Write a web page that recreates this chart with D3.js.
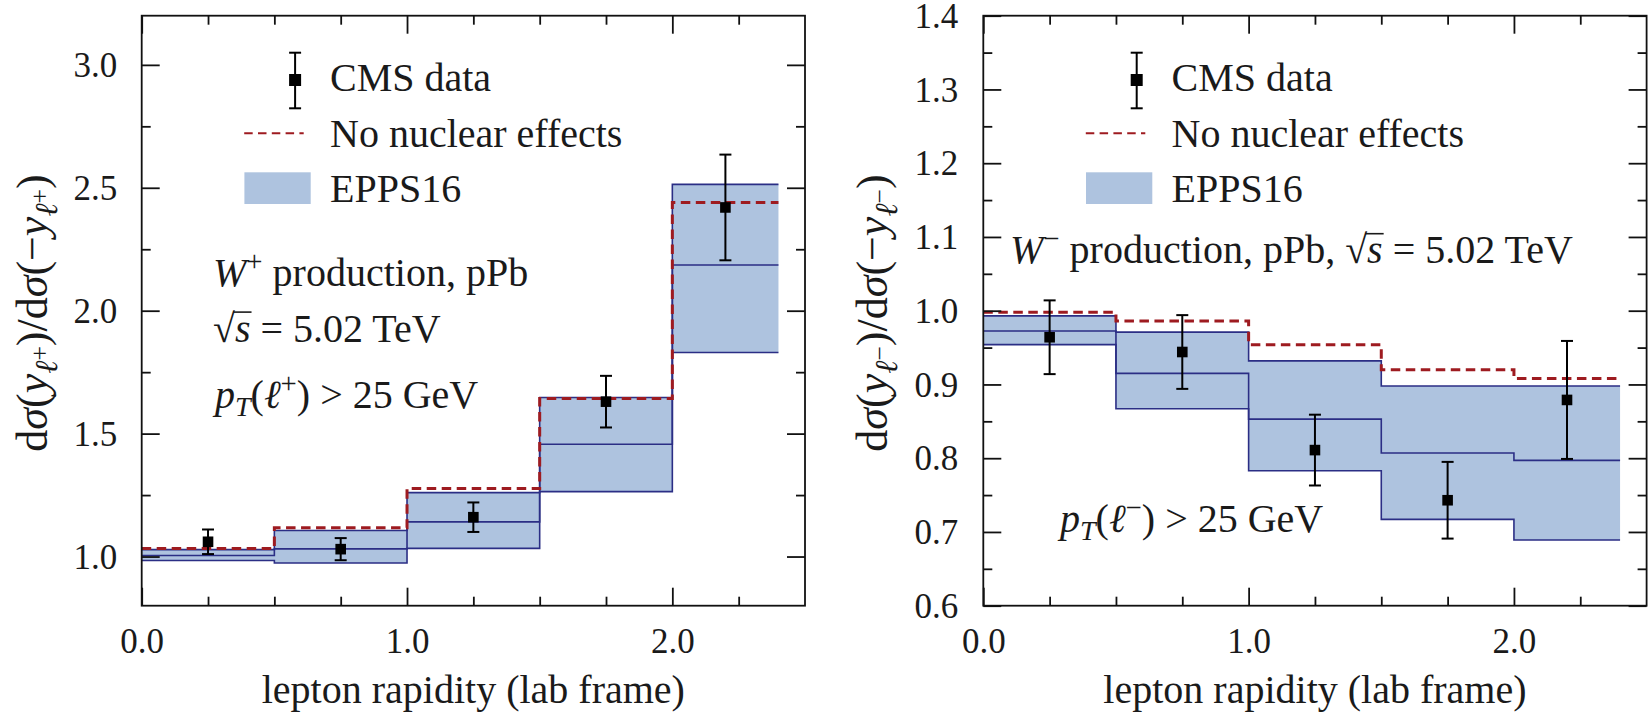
<!DOCTYPE html>
<html>
<head>
<meta charset="utf-8">
<script src="https://cdn.jsdelivr.net/npm/d3@7"></script>
</head>
<body style="margin:0;background:#fff">
<svg id="fig" width="1648" height="718"></svg>
<script>
// ---- binning in lepton rapidity (lab frame) ----
const binEdges = [0, 0.5, 1.0, 1.5, 2.0, 2.4];
const dataRapidity = [0.25, 0.75, 1.25, 1.75, 2.2];

// ---- W+ forward/backward ratio ----
const wPlusData    = [1.06, 1.03, 1.16, 1.63, 2.42];
const wPlusErr     = [0.05, 0.045, 0.06, 0.105, 0.215];
const wPlusNoNuc   = [1.033, 1.117, 1.277, 1.643, 2.44];
const wPlusUpper   = [1.028, 1.106, 1.26, 1.647, 2.514];
const wPlusCentral = [1.004, 1.031, 1.141, 1.457, 2.186];
const wPlusLower   = [0.984, 0.974, 1.033, 1.264, 1.83];

// ---- W- forward/backward ratio ----
const wMinusData    = [0.964, 0.944, 0.811, 0.743, 0.879];
const wMinusErr     = [0.05, 0.05, 0.048, 0.052, 0.08];
const wMinusNoNuc   = [0.998, 0.986, 0.954, 0.920, 0.908];
const wMinusUpper   = [0.993, 0.971, 0.932, 0.898, 0.898];
const wMinusCentral = [0.9725, 0.915, 0.853, 0.807, 0.797];
const wMinusLower   = [0.954, 0.867, 0.783, 0.717, 0.689];

// ---- axis ticks ----
const xMajorTicks = [0, 1, 2];
const xMinorTicks = [0.25, 0.5, 0.75, 1.25, 1.5, 1.75, 2.25];
const yPlusMajor  = [1.0, 1.5, 2.0, 2.5, 3.0];
const yPlusMinor  = [1.25, 1.75, 2.25, 2.75];
const yMinusMajor = [0.6, 0.7, 0.8, 0.9, 1.0, 1.1, 1.2, 1.3, 1.4];
const yMinusMinor = [0.65, 0.75, 0.85, 0.95, 1.05, 1.15, 1.25, 1.35];

// ---- legend labels ----
const legendLabels = ["CMS data", "No nuclear effects", "EPPS16"];

const COL_FILL = "#aec3df", COL_EDGE = "#2b2e85", COL_DASH = "#9e1b20";
const SERIF = "Liberation Serif";
const INK = "#1a1a1a";
const FS = 40, TICK_FS = 35, TITLE_FS = 44;

const svg = d3.select("#fig");

// serif label helper
function label(parent, x, y, fs) {
  return parent.append("text").attr("x", x).attr("y", y)
    .attr("font-family", SERIF).style("font-family", SERIF)
    .attr("font-size", fs).attr("fill", INK);
}

// text made of styled pieces (italic, sub/superscripts); shifts in px, positive = down
function richText(parent, x, y, segs, fs, anchor) {
  const t = label(parent, x, y, fs).attr("text-anchor", anchor || "start");
  let prev = 0;
  segs.forEach(s => {
    const sh = s.sh || 0;
    const ts = t.append("tspan").text(s.t)
      .attr("font-size", fs * (s.sz || 1))
      .attr("dy", sh - prev);
    if (s.it) ts.attr("font-style", "italic");
    prev = sh;
  });
  return t;
}

// vinculum over the radicand that follows the "√" piece
function radicalBar(textSel, segs, fs, baseY) {
  const node = textSel.node();
  let idx = 0, iRoot = -1, iEnd = -1;
  segs.forEach(s => {
    if (s.root) iRoot = idx;
    if (s.rad) iEnd = idx + s.t.length - 1;
    idx += s.t.length;
  });
  if (iRoot < 0 || iEnd < 0) return;
  const x1 = node.getEndPositionOfChar(iRoot).x - 1.5;
  const x2 = node.getEndPositionOfChar(iEnd).x + 1;
  d3.select(node.parentNode).append("line")
    .attr("x1", x1).attr("x2", x2)
    .attr("y1", baseY - 0.74 * fs).attr("y2", baseY - 0.74 * fs)
    .attr("stroke", INK).attr("stroke-width", 1.6);
}

const yTitle = sign => [
  { t: "d" }, { t: "σ", it: true }, { t: "(" }, { t: "y", it: true },
  { t: "ℓ", it: true, sz: 0.72, sh: 10 }, { t: sign, sz: 0.58, sh: 1 },
  { t: ")/d", sh: 0 }, { t: "σ", it: true }, { t: "(−" }, { t: "y", it: true },
  { t: "ℓ", it: true, sz: 0.72, sh: 10 }, { t: sign, sz: 0.58, sh: 1 },
  { t: ")", sh: 0 }
];

const panels = [
  {
    x0: 141.7, yDomain: [0.8, 3.2],
    data: wPlusData, err: wPlusErr, noNuc: wPlusNoNuc,
    upper: wPlusUpper, central: wPlusCentral, lower: wPlusLower,
    yMajor: yPlusMajor, yMinor: yPlusMinor, tickPad: 24.5,
    titleX: 47, sign: "+",
    notes: [
      { x: 213, y: 286, segs: [{ t: "W", it: true }, { t: "+", sz: 0.72, sh: -15 }, { t: " production, pPb", sh: 0 }] },
      { x: 213, y: 341.7, segs: [{ t: "√", root: true }, { t: "s", it: true, rad: true }, { t: " = 5.02 TeV" }] },
      { x: 215, y: 408.3, segs: [{ t: "p", it: true }, { t: "T", it: true, sz: 0.7, sh: 8 }, { t: "(", sh: 0 }, { t: "ℓ", it: true }, { t: "+", sz: 0.72, sh: -15 }, { t: ") > 25 GeV", sh: 0 }] }
    ]
  },
  {
    x0: 983.3, yDomain: [0.6, 1.4],
    data: wMinusData, err: wMinusErr, noNuc: wMinusNoNuc,
    upper: wMinusUpper, central: wMinusCentral, lower: wMinusLower,
    yMajor: yMinusMajor, yMinor: yMinusMinor, tickPad: 25,
    titleX: 887, sign: "−",
    notes: [
      { x: 1010, y: 263.3, segs: [{ t: "W", it: true }, { t: "−", sz: 0.72, sh: -15 }, { t: " production, pPb, ", sh: 0 }, { t: "√", root: true }, { t: "s", it: true, rad: true }, { t: " = 5.02 TeV" }] },
      { x: 1060, y: 531.7, segs: [{ t: "p", it: true }, { t: "T", it: true, sz: 0.7, sh: 8 }, { t: "(", sh: 0 }, { t: "ℓ", it: true }, { t: "−", sz: 0.72, sh: -15 }, { t: ") > 25 GeV", sh: 0 }] }
    ]
  }
];

const W = 663.3, TOP = 15.7, BOT = 605.7;

panels.forEach(p => {
  const x = d3.scaleLinear().domain([0, 2.5]).range([p.x0, p.x0 + W]);
  const y = d3.scaleLinear().domain(p.yDomain).range([BOT, TOP]);
  const g = svg.append("g");

  // step series: one value per bin, extended to the last edge
  const stepPts = vals => binEdges.map((e, i) => [e, vals[Math.min(i, vals.length - 1)]]);
  const stepLine = d3.line().x(d => x(d[0])).y(d => y(d[1])).curve(d3.curveStepAfter);
  const band = d3.area().x(d => x(d[0])).y0(d => y(d[1])).y1(d => y(d[2])).curve(d3.curveStepAfter);
  const bandPts = binEdges.map((e, i) => {
    const k = Math.min(i, p.lower.length - 1);
    return [e, p.lower[k], p.upper[k]];
  });

  // EPPS16 uncertainty band
  g.append("path").attr("d", band(bandPts)).attr("fill", COL_FILL).attr("stroke", "none");
  [p.upper, p.central, p.lower].forEach(v => {
    g.append("path").attr("d", stepLine(stepPts(v)))
      .attr("fill", "none").attr("stroke", COL_EDGE).attr("stroke-width", 1.6);
  });

  // no nuclear effects
  g.append("path").attr("d", stepLine(stepPts(p.noNuc)))
    .attr("fill", "none").attr("stroke", COL_DASH).attr("stroke-width", 3)
    .attr("stroke-dasharray", "9.5,5.5");

  // CMS data with error bars
  const pts = g.selectAll(".pt").data(dataRapidity.map((r, i) => ({ r, v: p.data[i], e: p.err[i] })))
    .enter().append("g");
  pts.append("line").attr("x1", d => x(d.r)).attr("x2", d => x(d.r))
    .attr("y1", d => y(d.v + d.e)).attr("y2", d => y(d.v - d.e))
    .attr("stroke", "#000").attr("stroke-width", 2);
  [1, -1].forEach(s => {
    pts.append("line").attr("x1", d => x(d.r) - 6).attr("x2", d => x(d.r) + 6)
      .attr("y1", d => y(d.v + s * d.e)).attr("y2", d => y(d.v + s * d.e))
      .attr("stroke", "#000").attr("stroke-width", 2);
  });
  pts.append("rect").attr("x", d => x(d.r) - 5.3).attr("y", d => y(d.v) - 5.3)
    .attr("width", 10.6).attr("height", 10.6).attr("fill", "#000");

  // frame
  g.append("rect").attr("x", p.x0).attr("y", TOP).attr("width", W).attr("height", BOT - TOP)
    .attr("fill", "none").attr("stroke", "#111").attr("stroke-width", 1.8);

  // inward ticks on all four sides
  const styleAxis = sel => {
    sel.attr("font-family", SERIF);
    sel.select(".domain").remove();
    sel.selectAll(".tick line").attr("stroke", "#111").attr("stroke-width", 1.8);
    sel.selectAll("text").attr("font-size", TICK_FS).attr("fill", INK)
      .attr("font-family", SERIF).style("font-family", SERIF);
  };
  const fmt1 = d3.format(".1f");
  g.append("g").attr("transform", `translate(0,${BOT})`)
    .call(d3.axisBottom(x).tickValues(xMajorTicks).tickSize(-18).tickFormat(fmt1))
    .call(styleAxis)
    .call(s => s.selectAll("text").attr("y", 47.5).attr("dy", null));
  g.append("g").attr("transform", `translate(0,${BOT})`)
    .call(d3.axisBottom(x).tickValues(xMinorTicks).tickSize(-9).tickFormat("")).call(styleAxis);
  g.append("g").attr("transform", `translate(0,${TOP})`)
    .call(d3.axisTop(x).tickValues(xMajorTicks).tickSize(-18).tickFormat("")).call(styleAxis);
  g.append("g").attr("transform", `translate(0,${TOP})`)
    .call(d3.axisTop(x).tickValues(xMinorTicks).tickSize(-9).tickFormat("")).call(styleAxis);

  g.append("g").attr("transform", `translate(${p.x0},0)`)
    .call(d3.axisLeft(y).tickValues(p.yMajor).tickSize(-18).tickPadding(p.tickPad).tickFormat(fmt1))
    .call(styleAxis)
    .call(s => s.selectAll("text").attr("x", -p.tickPad).attr("dy", "0.33em"));
  g.append("g").attr("transform", `translate(${p.x0},0)`)
    .call(d3.axisLeft(y).tickValues(p.yMinor).tickSize(-9).tickFormat("")).call(styleAxis);
  g.append("g").attr("transform", `translate(${p.x0 + W},0)`)
    .call(d3.axisRight(y).tickValues(p.yMajor).tickSize(-18).tickFormat("")).call(styleAxis);
  g.append("g").attr("transform", `translate(${p.x0 + W},0)`)
    .call(d3.axisRight(y).tickValues(p.yMinor).tickSize(-9).tickFormat("")).call(styleAxis);

  // axis titles
  label(g, p.x0 + W / 2, 703, FS).attr("text-anchor", "middle").text("lepton rapidity (lab frame)");
  const tg = g.append("g").attr("transform", `translate(${p.titleX},313) rotate(-90)`);
  richText(tg, 0, 0, yTitle(p.sign), TITLE_FS, "middle");

  // legend
  const lg = g.append("g").attr("transform", `translate(${p.x0},0)`);
  const mx = 153.4;
  lg.append("line").attr("x1", mx).attr("x2", mx).attr("y1", 52.7).attr("y2", 108.3)
    .attr("stroke", "#000").attr("stroke-width", 2);
  [52.7, 108.3].forEach(cy => lg.append("line").attr("x1", mx - 6).attr("x2", mx + 6)
    .attr("y1", cy).attr("y2", cy).attr("stroke", "#000").attr("stroke-width", 2));
  lg.append("rect").attr("x", mx - 6).attr("y", 74).attr("width", 12).attr("height", 12).attr("fill", "#000");
  lg.append("line").attr("x1", 102.5).attr("x2", 162).attr("y1", 133.3).attr("y2", 133.3)
    .attr("stroke", COL_DASH).attr("stroke-width", 2).attr("stroke-dasharray", "8.5,5.3");
  lg.append("rect").attr("x", 102.7).attr("y", 172.3).attr("width", 66.3).attr("height", 31.7)
    .attr("fill", COL_FILL);
  const lgY = [90.5, 146.7, 201.7];
  legendLabels.forEach((l, i) => label(lg, 188.3, lgY[i], FS).text(l));

  // annotations
  p.notes.forEach(n => {
    const t = richText(g, n.x, n.y, n.segs, FS);
    radicalBar(t, n.segs, FS, n.y);
  });
});
</script>
</body>
</html>
